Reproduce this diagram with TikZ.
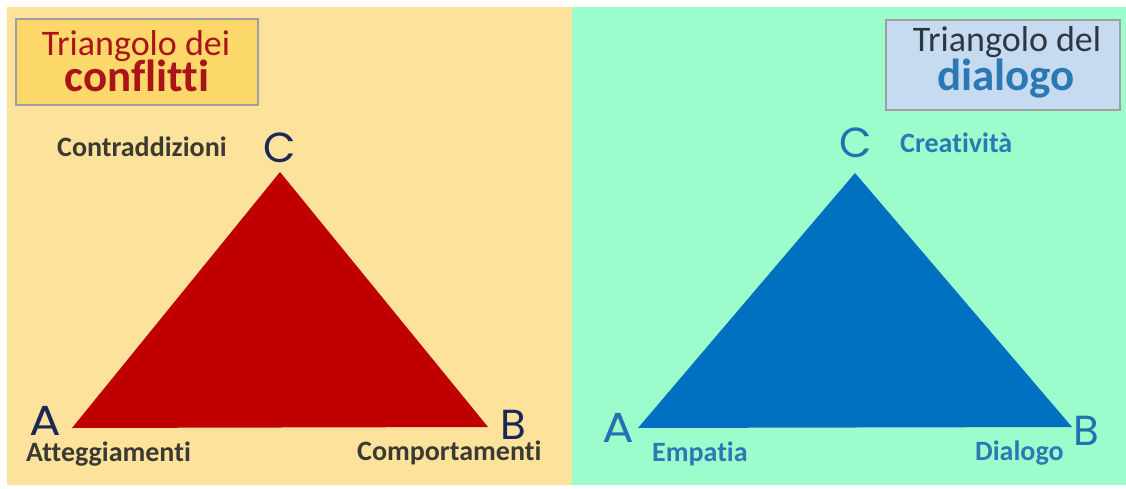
\documentclass[tikz,border=0pt]{standalone}
\usepackage{fontspec}
\setmainfont{Carlito}[Ligatures=NoCommon]
\newfontfamily\geofont{Poppins}
\definecolor{panelY}{HTML}{FDE29B}
\definecolor{panelG}{HTML}{9DFCCB}
\definecolor{boxY}{HTML}{FCD76A}
\definecolor{boxB}{HTML}{C6DBEF}
\definecolor{redT}{HTML}{C00000}
\definecolor{blueT}{HTML}{0070C0}
\definecolor{darkred}{HTML}{AA1419}
\definecolor{navy}{HTML}{1C2757}
\definecolor{labgray}{HTML}{3A3A34}
\definecolor{titlegray}{HTML}{2E3642}
\definecolor{labblue}{HTML}{2A78B4}
\definecolor{blueL}{HTML}{2470B0}
\tikzset{
  letter/.style={font=\geofont\fontsize{42}{42}\selectfont, inner sep=0pt, anchor=base},
  lab/.style={font=\bfseries\fontsize{28}{28}\selectfont, inner sep=0pt, anchor=base west},
  titlebox/.style={draw=gray!75, line width=1.5pt},
  ttl/.style={font=\fontsize{36}{36}\selectfont, inner sep=0pt, anchor=base},
  ttlb/.style={font=\bfseries\fontsize{45}{45}\selectfont, inner sep=0pt, anchor=base}
}
\begin{document}
\begin{tikzpicture}[x=1pt,y=1pt]
\useasboundingbox (0,0) rectangle (1126,488);
\fill[white] (0,0) rectangle (1126,488);
\fill[panelY] (7,3) rectangle (572,481);
\fill[panelG] (572,3) rectangle (1126,481);
% left title
\draw[titlebox, fill=boxY] (16,383) rectangle (258,469);
\node[ttl, text=darkred] (t1a) at (136,432) {Triangolo dei};
\node[ttlb, text=darkred] (t1b) at (137,396) {conflitti};
% left triangle
\coordinate (lA) at (72,60);
\coordinate (lB) at (488,61);
\coordinate (lC) at (280,316);
\fill[redT] (lA) -- (lB) -- (lC) -- cycle;
\node[letter, text=navy] (lCl) at (280,325) {C};
\node[letter, text=navy, xscale=1.12] (lAl) at (45.5,53) {A};
\node[letter, text=navy] (lBl) at (513.5,49) {B};
\node[lab, text=labgray] (contr) at (57,331) {Contraddizioni};
\node[lab, text=labgray] (att) at (26,27) {Atteggiamenti};
\node[lab, text=labgray] (comp) at (357,28) {Comportamenti};
% right title
\draw[titlebox, fill=boxB] (886,378) rectangle (1120,468);
\node[ttl, text=titlegray] (t2a) at (1007,436) {Triangolo del};
\node[ttlb, text=labblue] (t2b) at (1006,397) {dialogo};
% right triangle
\coordinate (rA) at (638,60);
\coordinate (rB) at (1072,61);
\coordinate (rC) at (855,315);
\fill[blueT] (rA) -- (rB) -- (rC) -- cycle;
\node[letter, text=blueL] (rCl) at (855.5,330) {C};
\node[letter, text=blueL, xscale=1.12] (rAl) at (618.5,46) {A};
\node[letter, text=blueL] (rBl) at (1086,43) {B};
\node[lab, text=labblue] (crea) at (900,335) {Creatività};
\node[lab, text=labblue] (emp) at (652,27) {Empatia};
\node[lab, text=labblue] (dia) at (975,28) {Dialogo};
\end{tikzpicture}
\end{document}
